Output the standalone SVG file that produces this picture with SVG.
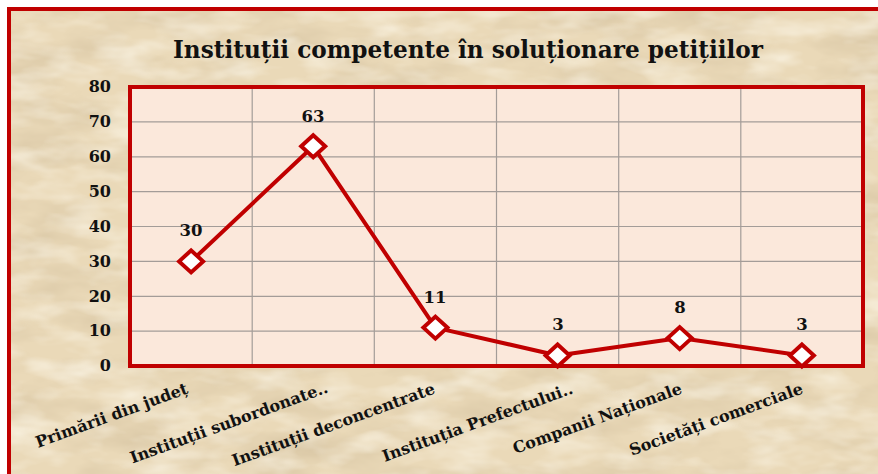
<svg xmlns="http://www.w3.org/2000/svg" width="878" height="474" viewBox="0 0 878 474">
<defs>
<filter id="parch" x="0" y="0" width="100%" height="100%">
<feTurbulence type="fractalNoise" baseFrequency="0.012 0.03" numOctaves="4" seed="7" result="n"/>
<feColorMatrix in="n" type="matrix" values="0 0 0 0 0.62  0 0 0 0 0.5  0 0 0 0 0.32  1.1 0 0 0 -0.45"/>
</filter>
<filter id="parch2" x="0" y="0" width="100%" height="100%">
<feTurbulence type="fractalNoise" baseFrequency="0.02 0.05" numOctaves="3" seed="21" result="n"/>
<feColorMatrix in="n" type="matrix" values="0 0 0 0 1  0 0 0 0 0.97  0 0 0 0 0.88  1.2 0 0 0 -0.5"/>
</filter>
<style>
.lbl{font-family:"DejaVu Serif","Liberation Serif",serif;font-weight:bold;fill:#111;}
.ax{font-size:16px;text-anchor:end;}
.val{font-size:16.5px;text-anchor:middle;}
.cat{font-size:16px;text-anchor:end;}
.grid{stroke:#a39c98;stroke-width:1.2;fill:none;}
.mk{fill:#ffffff;stroke:#c00000;stroke-width:4;stroke-linejoin:miter;}
</style>
</defs>
<rect x="0" y="0" width="878" height="474" fill="#ffffff"/>
<g id="background">
<rect x="9" y="9" width="880" height="480" fill="#ead9b8"/>
<rect x="9" y="9" width="880" height="480" filter="url(#parch)"/>
<rect x="9" y="9" width="880" height="480" filter="url(#parch2)"/>
<rect x="9" y="9" width="880" height="480" fill="none" stroke="#c00000" stroke-width="4"/>
</g>
<g id="title">
<text class="lbl" x="468" y="58" font-size="25" text-anchor="middle" textLength="590" lengthAdjust="spacingAndGlyphs">Instituții competente în soluționare petițiilor</text>
</g>
<g id="plot">
<rect x="130" y="87" width="733" height="279" fill="#fbe8db"/>
<g class="grid">
<line x1="130" y1="121.9" x2="863" y2="121.9"/>
<line x1="130" y1="156.8" x2="863" y2="156.8"/>
<line x1="130" y1="191.6" x2="863" y2="191.6"/>
<line x1="130" y1="226.5" x2="863" y2="226.5"/>
<line x1="130" y1="261.4" x2="863" y2="261.4"/>
<line x1="130" y1="296.3" x2="863" y2="296.3"/>
<line x1="130" y1="331.1" x2="863" y2="331.1"/>
<line x1="252.2" y1="87" x2="252.2" y2="366"/>
<line x1="374.3" y1="87" x2="374.3" y2="366"/>
<line x1="496.5" y1="87" x2="496.5" y2="366"/>
<line x1="618.7" y1="87" x2="618.7" y2="366"/>
<line x1="740.8" y1="87" x2="740.8" y2="366"/>
</g>
<rect x="130" y="87" width="733" height="279" fill="none" stroke="#c00000" stroke-width="4"/>
</g>
<g id="y-axis">
<text class="lbl ax" x="111" y="92">80</text>
<text class="lbl ax" x="111" y="127">70</text>
<text class="lbl ax" x="111" y="162">60</text>
<text class="lbl ax" x="111" y="197">50</text>
<text class="lbl ax" x="111" y="232">40</text>
<text class="lbl ax" x="111" y="267">30</text>
<text class="lbl ax" x="111" y="302">20</text>
<text class="lbl ax" x="111" y="336">10</text>
<text class="lbl ax" x="111" y="371">0</text>
</g>
<g id="connectors">
<polyline points="191.1,261.4 313.2,146.3 435.4,327.6 557.6,355.5 679.7,338.1 801.9,355.5" fill="none" stroke="#c00000" stroke-width="4" stroke-linejoin="round"/>
</g>
<g id="p1"><polygon class="mk" points="191.1,250.4 203.1,261.4 191.1,272.4 179.1,261.4"/><text class="lbl val" x="191" y="236">30</text></g>
<g id="p2"><polygon class="mk" points="313.2,135.3 325.2,146.3 313.2,157.3 301.2,146.3"/><text class="lbl val" x="313" y="122">63</text></g>
<g id="p3"><polygon class="mk" points="435.4,316.6 447.4,327.6 435.4,338.6 423.4,327.6"/><text class="lbl val" x="435" y="303">11</text></g>
<g id="p4"><polygon class="mk" points="557.6,344.5 569.6,355.5 557.6,366.5 545.6,355.5"/><text class="lbl val" x="558" y="330">3</text></g>
<g id="p5"><polygon class="mk" points="679.7,327.1 691.7,338.1 679.7,349.1 667.7,338.1"/><text class="lbl val" x="680" y="313">8</text></g>
<g id="p6"><polygon class="mk" points="801.9,344.5 813.9,355.5 801.9,366.5 789.9,355.5"/><text class="lbl val" x="802" y="330">3</text></g>
<g id="categories">
<text class="lbl cat" transform="translate(189,393) rotate(-20)">Primării din județ</text>
<text class="lbl cat" transform="translate(329,392) rotate(-20)">Instituții subordonate..</text>
<text class="lbl cat" transform="translate(436,393) rotate(-20)">Instituții deconcentrate</text>
<text class="lbl cat" transform="translate(574,393) rotate(-20)">Instituția Prefectului..</text>
<text class="lbl cat" transform="translate(683,393) rotate(-20)">Companii Naționale</text>
<text class="lbl cat" transform="translate(804,393) rotate(-20)">Societăți comerciale</text>
</g>
</svg>
